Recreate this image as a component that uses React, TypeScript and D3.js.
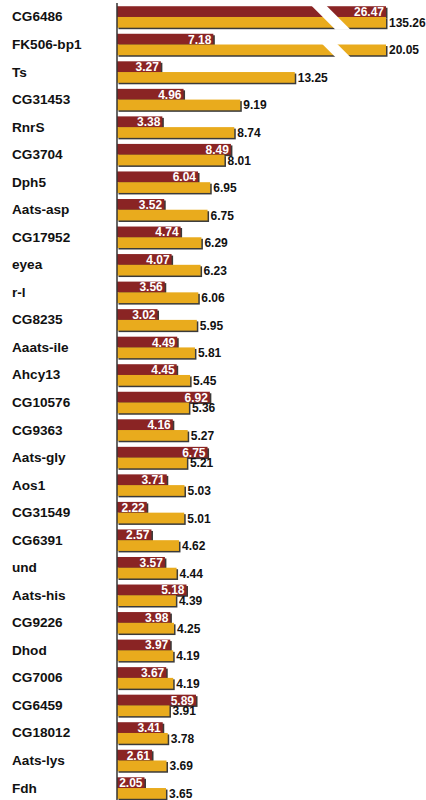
import React from "react";
import * as d3 from "d3";

const genes = ["CG6486", "FK506-bp1", "Ts", "CG31453", "RnrS", "CG3704", "Dph5", "Aats-asp", "CG17952", "eyea", "r-l", "CG8235", "Aaats-ile", "Ahcy13", "CG10576", "CG9363", "Aats-gly", "Aos1", "CG31549", "CG6391", "und", "Aats-his", "CG9226", "Dhod", "CG7006", "CG6459", "CG18012", "Aats-lys", "Fdh"];
const redValues = [26.47, 7.18, 3.27, 4.96, 3.38, 8.49, 6.04, 3.52, 4.74, 4.07, 3.56, 3.02, 4.49, 4.45, 6.92, 4.16, 6.75, 3.71, 2.22, 2.57, 3.57, 5.18, 3.98, 3.97, 3.67, 5.89, 3.41, 2.61, 2.05];
const orangeValues = [135.26, 20.05, 13.25, 9.19, 8.74, 8.01, 6.95, 6.75, 6.29, 6.23, 6.06, 5.95, 5.81, 5.45, 5.36, 5.27, 5.21, 5.03, 5.01, 4.62, 4.44, 4.39, 4.25, 4.19, 4.19, 3.91, 3.78, 3.69, 3.65];
const axisMax = 20.05;
const brokenGenes = ["CG6486", "FK506-bp1"];

const W = 426;
const H = 800;
const RED = "#8a2424";
const ORANGE = "#e9ab1d";
const SHADOW = "#3a3a3a";
const FONT = "'Liberation Sans', Arial, Helvetica, sans-serif";

export default function App() {
  const x = d3.scaleLinear().domain([0, axisMax]).range([117, 386]);
  const y = d3.scaleBand<string>().domain(genes).range([3.2, 801.8]).paddingInner(0.22).paddingOuter(0.11);
  const bw = y.bandwidth();
  const hh = bw / 2;
  const cap = (v: number) => x(Math.min(v, axisMax));
  const x0 = x(0);
  const bx = x.range()[1] - 75;

  return (
    <svg width={W} height={H} style={{ position: "absolute", left: 0, top: 0, background: "#fff" }} fontFamily={FONT}>
      {genes.map((g, i) => {
        const top = y(g)!;
        const rv = redValues[i];
        const ov = orangeValues[i];
        const rx = cap(rv);
        const ox = cap(ov);
        return (
          <g key={g}>
            <text x={12} y={top + bw / 2} dominantBaseline="central" fontSize={13.6} fontWeight="bold" fill="#111">{g}</text>
            <rect x={x0 + 1.5} y={top + 1.5} width={rx - x0} height={hh} fill={SHADOW} />
            <rect x={x0} y={top} width={rx - x0} height={hh} fill={RED} />
            <rect x={x0 + 1.5} y={top + hh + 1.5} width={ox - x0} height={hh} fill={SHADOW} />
            <rect x={x0} y={top + hh} width={ox - x0} height={hh} fill={ORANGE} />
          </g>
        );
      })}
      {brokenGenes.map((g) => {
        const top = y(g)!;
        return (
          <polygon
            key={"b" + g}
            points={`${bx},${top - 1} ${bx + 15},${top - 1} ${bx + 15 + bw + 3},${top + bw + 2} ${bx + bw + 3},${top + bw + 2}`}
            fill="#ffffff"
          />
        );
      })}
      {genes.map((g, i) => {
        const top = y(g)!;
        const rv = redValues[i];
        const ov = orangeValues[i];
        const rx = cap(rv);
        const ox = cap(ov);
        return (
          <g key={"t" + g}>
            <text x={rx - 2} y={top + hh / 2 + 0.5} dominantBaseline="central" textAnchor="end" fontSize={12} fontWeight="bold" fill="#fff">{rv.toFixed(2)}</text>
            <text x={ox + 3} y={top + hh + hh / 2 + 0.5} dominantBaseline="central" fontSize={12} fontWeight="bold" fill="#111">{ov.toFixed(2)}</text>
          </g>
        );
      })}
      <line x1={x0} x2={x0} y1={3} y2={H} stroke="#333" strokeWidth={1.5} />
    </svg>
  );
}
